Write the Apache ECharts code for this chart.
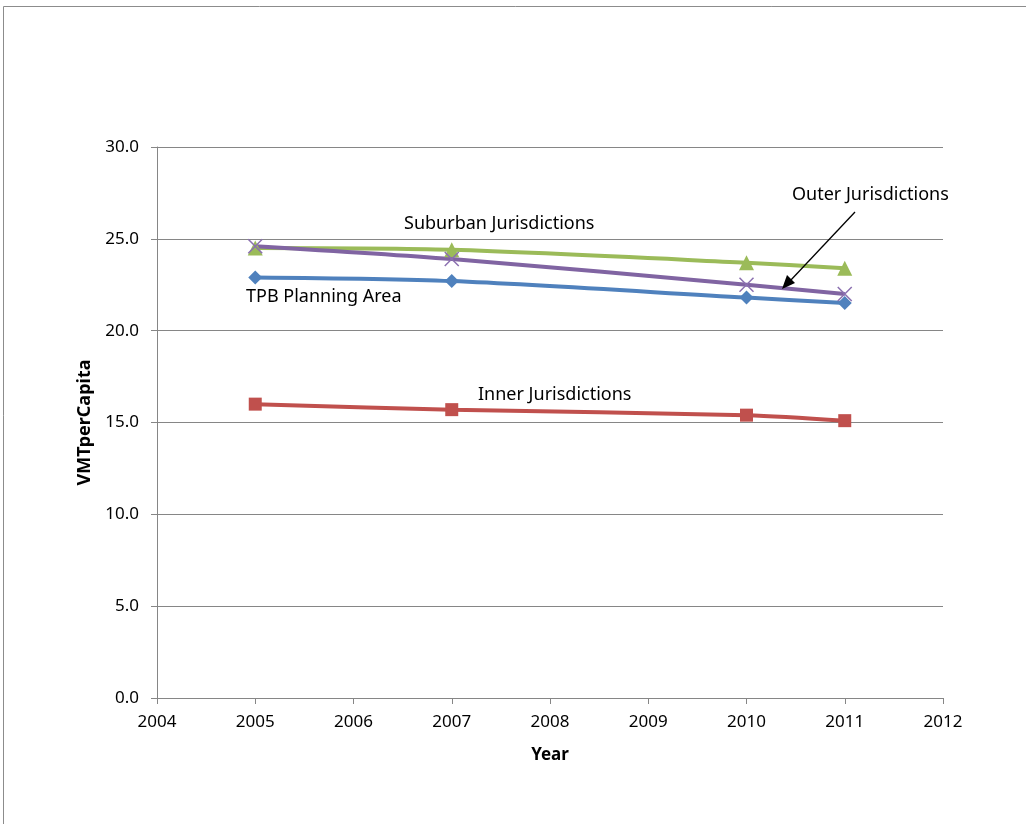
<!DOCTYPE html>
<html>
<head>
<meta charset="utf-8">
<script src="https://cdn.jsdelivr.net/npm/echarts@6/dist/echarts.min.js"></script>
<style>
  html, body { margin: 0; padding: 0; background: #fff; }
  #chart { width: 1026px; height: 824px; }
</style>
</head>
<body>
<div id="chart"></div>
<script>
// Vehicle miles travelled per capita by jurisdiction group
const years = [2005, 2007, 2010, 2011];
const tpbPlanningArea = [22.9, 22.7, 21.8, 21.5];
const innerJurisdictions = [16.0, 15.7, 15.4, 15.1];
const suburbanJurisdictions = [24.5, 24.4, 23.7, 23.4];
const outerJurisdictions = [24.6, 23.9, 22.5, 22.0];
const yTicks = [0, 5, 10, 15, 20, 25, 30];
const xTicks = [2004, 2005, 2006, 2007, 2008, 2009, 2010, 2011, 2012];

const FONT = '"Noto Sans", "Open Sans", sans-serif';
const GRID_GRAY = '#868686';

function pairs(vals) {
  return years.map((y, i) => [y, vals[i]]);
}

function lineSeries(name, vals, color, symbol, size, extra) {
  return Object.assign({
    name: name,
    type: 'line',
    data: pairs(vals),
    smooth: 0.3,
    symbol: symbol,
    symbolSize: size,
    lineStyle: { color: color, width: 4 },
    itemStyle: { color: color, borderColor: color, borderWidth: 0 },
    z: 3
  }, extra || {});
}

function note(text, x, y) {
  return {
    type: 'text', x: x, y: y, silent: true, z: 10,
    style: { text: text, font: '18px ' + FONT, fill: '#000', align: 'left', verticalAlign: 'middle' }
  };
}

const chart = echarts.init(document.getElementById('chart'), null, { renderer: 'canvas' });

chart.setOption({
  animation: false,
  backgroundColor: '#ffffff',
  grid: { left: 157, right: 83, top: 147, bottom: 126, containLabel: false },
  xAxis: {
    type: 'value',
    min: xTicks[0],
    max: xTicks[xTicks.length - 1],
    interval: 1,
    name: 'Year',
    nameLocation: 'middle',
    nameGap: 49,
    nameTextStyle: { fontFamily: FONT, fontSize: 17, fontWeight: 'bold', color: '#000' },
    axisLine: { show: true, lineStyle: { color: GRID_GRAY, width: 1 } },
    axisTick: { show: true, length: 6, lineStyle: { color: GRID_GRAY } },
    axisLabel: {
      fontFamily: FONT, fontSize: 17, color: '#000', margin: 16,
      formatter: v => String(v)
    },
    splitLine: { show: false }
  },
  yAxis: {
    type: 'value',
    min: yTicks[0],
    max: yTicks[yTicks.length - 1],
    interval: 5,
    name: 'VMTperCapita',
    nameLocation: 'middle',
    nameGap: 57,
    nameTextStyle: { fontFamily: FONT, fontSize: 18, fontWeight: 'bold', color: '#000' },
    axisLine: { show: true, lineStyle: { color: GRID_GRAY, width: 1 } },
    axisTick: { show: true, length: 6, lineStyle: { color: GRID_GRAY } },
    axisLabel: {
      fontFamily: FONT, fontSize: 17, color: '#000', margin: 18,
      formatter: v => v.toFixed(1)
    },
    splitLine: { show: true, lineStyle: { color: GRID_GRAY, width: 1 } }
  },
  series: [
    lineSeries('Inner Jurisdictions', innerJurisdictions, '#C0504D', 'rect', 13),
    lineSeries('TPB Planning Area', tpbPlanningArea, '#4F81BD', 'diamond', 14),
    lineSeries('Suburban Jurisdictions', suburbanJurisdictions, '#9BBB59', 'triangle', 15),
    lineSeries('Outer Jurisdictions', outerJurisdictions, '#8064A2',
      'path://M0,0L10,10M10,0L0,10', 14,
      { itemStyle: { color: 'rgba(0,0,0,0)', borderColor: '#8B70B0', borderWidth: 1.5 } })
  ],
  graphic: [
    // outer frame of the chart area
    {
      type: 'rect', silent: true,
      shape: { x: 3.5, y: 6.5, width: 1030, height: 830 },
      style: { fill: 'none', stroke: '#8c8c8c', lineWidth: 1 }
    },
    note('Suburban Jurisdictions', 404, 224),
    note('TPB Planning Area', 246, 297),
    note('Inner Jurisdictions', 478, 395),
    note('Outer Jurisdictions', 792, 195),
    // pointer from the Outer label to its line
    {
      type: 'line', silent: true, z: 10,
      shape: { x1: 855, y1: 212, x2: 790, y2: 281 },
      style: { stroke: '#000', lineWidth: 1.3 }
    },
    {
      type: 'polygon', silent: true, z: 10,
      shape: { points: [[782, 289], [787, 275], [795, 283]] },
      style: { fill: '#000' }
    }
  ]
});
</script>
</body>
</html>
